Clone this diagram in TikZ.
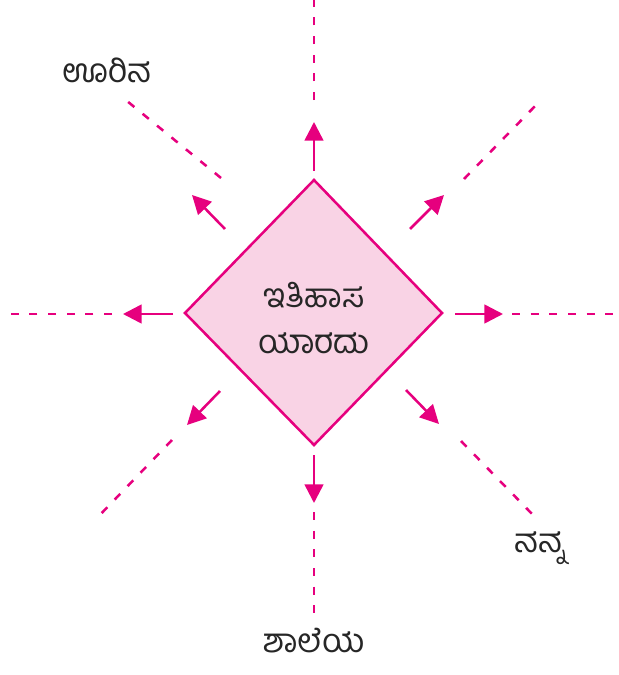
\documentclass[tikz,border=0pt]{standalone}
\usepackage{fontspec}
\newfontfamily\kn[Script=Kannada]{Hind Mysuru}
\usetikzlibrary{arrows.meta}
\definecolor{mag}{HTML}{E6007E}
\definecolor{pinkfill}{HTML}{F9D3E5}
\begin{document}
\begin{tikzpicture}[x=0.75pt,y=-0.75pt,
  arr/.style={draw=mag,line width=1.9pt,-{Triangle[length=14pt,width=14pt]}},
  dsh/.style={draw=mag,line width=1.9pt,dash pattern=on 6pt off 8pt},
  lbl/.style={font=\kn\fontsize{25}{30}\selectfont,text=black!85,inner sep=0pt,anchor=base}]
\useasboundingbox (0,0) rectangle (618,675);
% diamond
\coordinate (T) at (314,180);
\coordinate (R) at (442,313);
\coordinate (B) at (314,445);
\coordinate (L) at (185,313);
\filldraw[draw=mag,fill=pinkfill,line width=1.9pt,line join=miter] (T) -- (R) -- (B) -- (L) -- cycle;
\node[lbl] (c1) at (314,307) {ಇತಿಹಾಸ};
\node[lbl] (c2) at (314,353) {ಯಾರದು};
% arrows: start / tip
\coordinate (u0) at (314,171); \coordinate (u1) at (314,122);
\coordinate (d0) at (314,455); \coordinate (d1) at (314,503);
\coordinate (l0) at (173,314); \coordinate (l1) at (123,314);
\coordinate (r0) at (455,314); \coordinate (r1) at (503,314);
\coordinate (ul0) at (225,229); \coordinate (ul1) at (192,195);
\coordinate (ur0) at (410,229); \coordinate (ur1) at (444,195);
\coordinate (dl0) at (220,391); \coordinate (dl1) at (187,425);
\coordinate (dr0) at (406,390); \coordinate (dr1) at (439,424);
\foreach \a in {u,d,l,r,ul,ur,dl,dr}{\draw[arr] (\a0) -- (\a1);}
% dashed lines
\coordinate (du0) at (314,100); \coordinate (du1) at (314,0);
\coordinate (dd0) at (314,512); \coordinate (dd1) at (314,622);
\coordinate (dl0x) at (112,314); \coordinate (dl1x) at (4,314);
\coordinate (dr0x) at (512,314); \coordinate (dr1x) at (618,314);
\coordinate (dul0) at (221,178); \coordinate (dul1) at (127,101);
\coordinate (dur0) at (464,179); \coordinate (dur1) at (540,101);
\coordinate (ddl0) at (172,440); \coordinate (ddl1) at (96,519);
\coordinate (ddr0) at (461,441); \coordinate (ddr1) at (536,518);
\draw[dsh] (du0) -- (du1);
\draw[dsh] (dd0) -- (dd1);
\draw[dsh] (dl0x) -- (dl1x);
\draw[dsh] (dr0x) -- (dr1x);
\draw[dsh] (dul0) -- (dul1);
\draw[dsh] (dur0) -- (dur1);
\draw[dsh] (ddl0) -- (ddl1);
\draw[dsh] (ddr0) -- (ddr1);
% labels
\node[lbl] (t1) at (107,82) {ಊರಿನ};
\node[lbl] (t2) at (540,552) {ನನ್ನ};
\node[lbl] (t3) at (314,652) {ಶಾಲೆಯ};
\end{tikzpicture}
\end{document}
